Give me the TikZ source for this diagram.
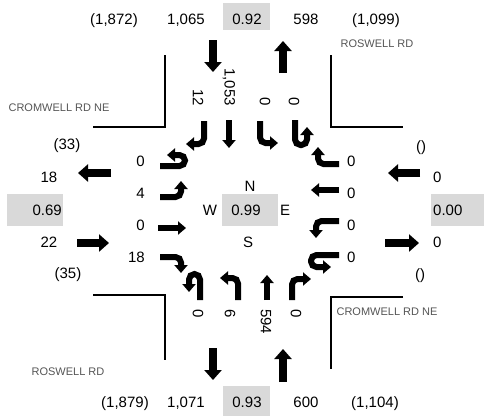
\documentclass[tikz,border=0pt]{standalone}
\usepackage{fontspec}
\setmainfont{Liberation Sans}
\usetikzlibrary{arrows.meta}
\definecolor{boxgray}{RGB}{217,217,217}
\definecolor{streetgray}{RGB}{85,85,85}
\begin{document}
\begin{tikzpicture}[x=1pt,y=-1pt,
  num/.style={font=\fontsize{15}{17}\selectfont, inner sep=0pt, anchor=base},
  rnum/.style={font=\fontsize{15}{17}\selectfont, inner sep=0pt, rotate=-90},
  street/.style={font=\fontsize{11}{13}\selectfont, text=streetgray, inner sep=0pt},
  big/.style={line width=7.5pt, -{Triangle[width=17pt,length=10pt]}},
  turn/.style={line width=6pt, rounded corners=5.5pt, -{Triangle[width=13pt,length=8pt]}},
  curb/.style={line width=1.5pt}]
\useasboundingbox (0,0) rectangle (484,416);

% grey boxes
\fill[boxgray] (223,3) rectangle (270,30);
\fill[boxgray] (223,386) rectangle (270,416);
\fill[boxgray] (7,194) rectangle (63,226);
\fill[boxgray] (431,194) rectangle (484,226);
\fill[boxgray] (222,194) rectangle (278,226);

% top row
\node[num] (t1) at (114,24.5) {(1,872)};
\node[num] (t2) at (186,24.5) {1,065};
\node[num] (t3) at (247,24.5) {0.92};
\node[num] (t4) at (306,24.5) {598};
\node[num] (t5) at (376,24.5) {(1,099)};
% bottom row
\node[num] (b1) at (125,407.5) {(1,879)};
\node[num] (b2) at (186,407.5) {1,071};
\node[num] (b3) at (247,407.5) {0.93};
\node[num] (b4) at (306,407.5) {600};
\node[num] (b5) at (375,407.5) {(1,104)};
% left outer
\node[num] (l1) at (67,149) {(33)};
\node[num] (l2) at (49,182) {18};
\node[num,anchor=base east] (l3) at (62,215) {0.69};
\node[num] (l4) at (49,247) {22};
\node[num] (l5) at (68,278) {(35)};
% right outer
\node[num] (r1) at (421,151) {()};
\node[num,anchor=base west] (r2) at (433,182) {0};
\node[num,anchor=base west] (r3) at (433,215) {0.00};
\node[num,anchor=base west] (r4) at (433,247) {0};
\node[num] (r5) at (420,279) {()};
% centre
\node[num] (cn) at (250,191) {N};
\node[num] (cw) at (210,215) {W};
\node[num] (cc) at (246,215) {0.99};
\node[num] (ce) at (285,215) {E};
\node[num] (cs) at (248,247) {S};
% lane labels west / east
\node[num,anchor=base east] (we1) at (145,166) {0};
\node[num,anchor=base east] (we2) at (145,198) {4};
\node[num,anchor=base east] (we3) at (145,230) {0};
\node[num,anchor=base east] (we4) at (145,262) {18};
\node[num,anchor=base west] (ea1) at (347,166) {0};
\node[num,anchor=base west] (ea2) at (347,198) {0};
\node[num,anchor=base west] (ea3) at (347,230) {0};
\node[num,anchor=base west] (ea4) at (347,262) {0};
% lane labels north / south (rotated)
\node[rnum,anchor=east] (no1) at (198,106) {12};
\node[rnum,anchor=east] (no2) at (229,106) {1,053};
\node[rnum,anchor=east] (no3) at (265,106) {0};
\node[rnum,anchor=east] (no4) at (294,106) {0};
\node[rnum,anchor=west] (so1) at (198,309) {0};
\node[rnum,anchor=west] (so2) at (230,309) {6};
\node[rnum,anchor=west] (so3) at (266,309) {594};
\node[rnum,anchor=west] (so4) at (296,309) {0};

% street names
\node[street] (s1) at (377,44) {ROSWELL RD};
\node[street] (s2) at (59,108) {CROMWELL RD NE};
\node[street] (s3) at (68,372) {ROSWELL RD};
\node[street] (s4) at (387,312) {CROMWELL RD NE};

% curbs
\draw[curb] (93,127) -- (165,127) -- (165,55);
\draw[curb] (331,55) -- (331,127) -- (403,127);
\draw[curb] (93,295) -- (165,295) -- (165,360);
\draw[curb] (403,297) -- (331,297) -- (331,369);

% approach arrows
\draw[big] (213,40) -- (213,72);
\draw[big] (283,73) -- (283,41);
\draw[big] (213,348) -- (213,380);
\draw[big] (283,382) -- (283,349);
\draw[big] (111,173) -- (78,173);
\draw[big] (77,243) -- (109,243);
\draw[big] (420,173) -- (388,173);
\draw[big] (385,243) -- (419,243);

% eastbound (from west)
\draw[turn] (160,166) -- (185,166) -- (185,155) -- (167,155);
\draw[turn] (160,197) -| (181,181);
\draw[turn] (158,228) -- (186,228);
\draw[turn] (160,257) -| (181,273);
% westbound (from east)
\draw[turn] (339,164) -| (318,147);
\draw[turn] (339,190) -- (311,190);
\draw[turn] (339,221) -| (316,238);
\draw[turn] (339,255) -- (311,255) -- (311,267) -- (331,267);
% southbound (from north)
\draw[turn] (204,121) |- (186,144);
\draw[turn] (229,120) -- (229,148);
\draw[turn] (260,121) |- (278,143);
\draw[turn] (295,120) -- (295,145) -- (307,145) -- (307,127);
% northbound (from south)
\draw[turn] (200,300) -- (200,274) -- (189,274) -- (189,292);
\draw[turn] (238,300) |- (220,278);
\draw[turn] (267,300) -- (267,275);
\draw[turn] (292,300) |- (311,279);
\end{tikzpicture}
\end{document}
